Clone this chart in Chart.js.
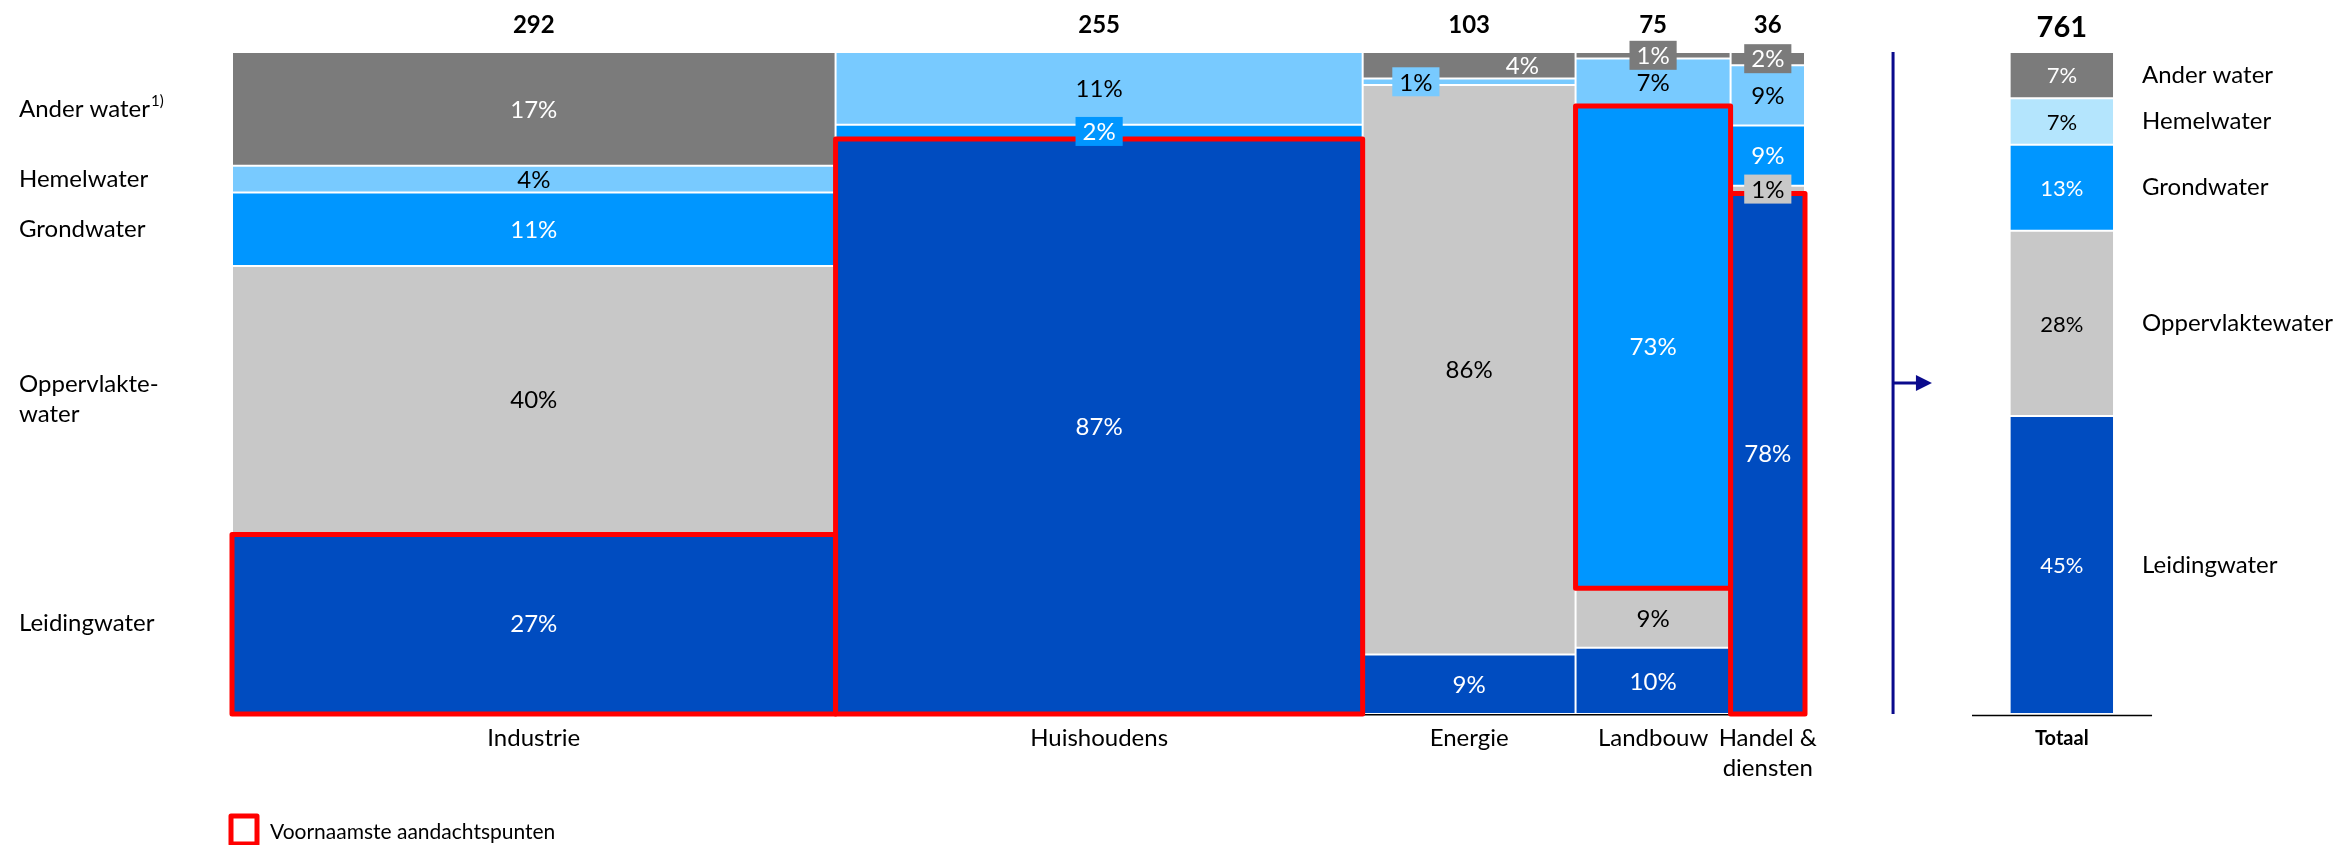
<!DOCTYPE html>
<html><head><meta charset="utf-8">
<script src="https://cdn.jsdelivr.net/npm/chart.js@4.4.1/dist/chart.umd.min.js"></script>
<style>html,body{margin:0;padding:0;background:#fff;overflow:hidden}</style>
</head><body>
<canvas id="c" width="2343" height="845" style="display:block;width:2343px;height:845px"></canvas>
<script>
// ---------------- DATA ----------------
const sectors = ['Industrie', 'Huishoudens', 'Energie', 'Landbouw', ['Handel &', 'diensten']];
const sectorTotals = [292, 255, 103, 75, 36];
const totalLabel = 'Totaal';
const totalVolume = 761;
const waterTypes = ['Leidingwater', 'Oppervlaktewater', 'Grondwater', 'Hemelwater', 'Ander water'];
// shares (%) per sector, same order as sectors
const leidingwater     = [27, 87,  9, 10, 78];
const oppervlaktewater = [40,  0, 86,  9,  1];
const grondwater       = [11,  2,  0, 73,  9];
const hemelwater       = [ 4, 11,  1,  7,  9];
const anderWater       = [17,  0,  4,  1,  2];
// total column shares, same order as waterTypes
const totaalShares     = [45, 28, 13,  7,  7];
// highlighted cells: [sector index, water type index]
const highlighted = [[0, 0], [1, 0], [3, 2], [4, 0]];
const leftLabels = [['Leidingwater'], ['Oppervlakte-', 'water'], ['Grondwater'], ['Hemelwater'], ['Ander water']];
const legendText = 'Voornaamste aandachtspunten';

// ---------------- STYLE / LAYOUT ----------------
const series = [leidingwater, oppervlaktewater, grondwater, hemelwater, anderWater];
const colors = ['#004cc0', '#c8c8c8', '#0096ff', '#78caff', '#7b7b7b'];
const hemelTotalColor = '#b4e5fd';
const textDark = [false, true, false, true, false];
const FONT = "Lato, 'Open Sans', sans-serif";
const W = 2343, H = 845;
const PLOT_L = 232, PLOT_T = 52, PLOT_B = 714, MAIN_R = 1805;
const pxPerUnit = (MAIN_R - PLOT_L) / totalVolume;
const X_MAX = (W - 3 - PLOT_L) / pxPerUnit;
const TOTAL_SPAN = [860, 910.5];     // x-units of the total column
const DIVIDER_X = 803.6;             // x-units of the divider line
const ARROW_END_X = 822.4;
const TOTAL_BASE = [841.8, 928.9];
const labelShift = {'2,4': 0.25, '2,3': -0.25}; // fraction of column width

let cum = 0;
const columnSpans = sectorTotals.map(v => { const s = [cum, cum + v]; cum += v; return s; });
columnSpans.push(TOTAL_SPAN);
const colSums = sectorTotals.map((_, i) => series.reduce((a, s) => a + s[i], 0));
function rawValue(i, t) { return i < sectorTotals.length ? series[t][i] : totaalShares[t]; }
function share(i, t) {
  const v = rawValue(i, t);
  if (!v) return null;
  return i < sectorTotals.length ? v / colSums[i] * 100 : v;
}

class MekkoController extends Chart.BarController {
  _calculateBarIndexPixels(index, ruler) {
    const s = this._cachedMeta.iScale;
    const sp = columnSpans[index];
    const a = s.getPixelForValue(sp[0]), b = s.getPixelForValue(sp[1]);
    return {base: a, head: b, center: (a + b) / 2, size: b - a};
  }
}
MekkoController.id = 'mekko';
MekkoController.defaults = Chart.BarController.defaults;
MekkoController.overrides = Chart.BarController.overrides;
Chart.register(MekkoController);

function txt(ctx, s, x, y, font, color, align) {
  ctx.font = font; ctx.fillStyle = color; ctx.textAlign = align || 'center'; ctx.textBaseline = 'middle';
  ctx.fillText(s, x, y);
}

const deco = {
  id: 'deco',
  afterDatasetsDraw(chart) {
    const ctx = chart.ctx, xs = chart.scales.x, ys = chart.scales.y, ca = chart.chartArea;
    const el = (t, i) => chart.getDatasetMeta(t).data[i];
    const nS = sectorTotals.length;
    ctx.save();
    // baselines
    ctx.strokeStyle = '#000'; ctx.lineWidth = 1.5;
    ctx.beginPath();
    ctx.moveTo(xs.getPixelForValue(0), ys.getPixelForValue(0) + 0.75);
    ctx.lineTo(xs.getPixelForValue(totalVolume), ys.getPixelForValue(0) + 0.75);
    ctx.moveTo(xs.getPixelForValue(TOTAL_BASE[0]), ys.getPixelForValue(0) + 1.5);
    ctx.lineTo(xs.getPixelForValue(TOTAL_BASE[1]), ys.getPixelForValue(0) + 1.5);
    ctx.stroke();
    // highlight boxes
    ctx.strokeStyle = '#ff0000'; ctx.lineWidth = 5; ctx.lineJoin = 'round';
    highlighted.forEach(([i, t]) => {
      const e = el(t, i);
      ctx.strokeRect(e.x - e.width / 2, e.y + 1, e.width, e.base - e.y - 1);
    });
    // segment labels
    for (let t = 0; t < waterTypes.length; t++) {
      for (let i = 0; i <= nS; i++) {
        const v = rawValue(i, t);
        if (!v) continue;
        const e = el(t, i);
        const h = e.base - e.y;
        const cx = e.x + (labelShift[i + ',' + t] || 0) * e.width;
        const cy = (e.y + e.base) / 2;
        const s = v + '%';
        const fsz = i === nS ? 22 : 24;
        ctx.font = fsz + 'px ' + FONT;
        if (h < 20) {
          const w = ctx.measureText(s).width + 14;
          ctx.fillStyle = (i === nS && t === 3) ? hemelTotalColor : colors[t];
          ctx.fillRect(cx - w / 2, cy - 14.5, w, 29);
        }
        txt(ctx, s, cx, cy + 1, fsz + 'px ' + FONT, textDark[t] ? '#000' : '#fff');
      }
    }
    // column totals
    for (let i = 0; i < nS; i++) {
      const e = el(0, i);
      txt(ctx, String(sectorTotals[i]), e.x, ca.top - 27, 'bold 24px ' + FONT, '#000');
      const lab = Array.isArray(sectors[i]) ? sectors[i] : [sectors[i]];
      lab.forEach((l, k) => txt(ctx, l, e.x, ca.bottom + 24 + k * 30, '24px ' + FONT, '#000'));
    }
    const te = el(0, nS);
    txt(ctx, String(totalVolume), te.x, ca.top - 24, 'bold 29px ' + FONT, '#000');
    txt(ctx, totalLabel, te.x, ca.bottom + 25, 'bold 20px ' + FONT, '#000');
    // left labels at Industrie segment centres
    for (let t = 0; t < waterTypes.length; t++) {
      const e = el(t, 0);
      const cy = (e.y + e.base) / 2;
      const lines = leftLabels[t];
      lines.forEach((l, k) => {
        const y = cy + (k - (lines.length - 1) / 2) * 30;
        txt(ctx, l, 19, y, '24px ' + FONT, '#000', 'left');
        if (t === 4) {
          ctx.font = '24px ' + FONT;
          const w = ctx.measureText(l).width;
          txt(ctx, '1)', 19 + w + 1, y - 8, '15px ' + FONT, '#000', 'left');
        }
      });
    }
    // right labels at total segment centres
    const rx = te.x + te.width / 2 + 28;
    for (let t = 0; t < waterTypes.length; t++) {
      const e = el(t, nS);
      txt(ctx, waterTypes[t], rx, (e.y + e.base) / 2, '24px ' + FONT, '#000', 'left');
    }
    // divider + arrow
    const dx = xs.getPixelForValue(DIVIDER_X);
    const ay = ys.getPixelForValue(50);
    const ax = xs.getPixelForValue(ARROW_END_X);
    ctx.strokeStyle = '#0a0a8c'; ctx.fillStyle = '#0a0a8c'; ctx.lineWidth = 3;
    ctx.beginPath(); ctx.moveTo(dx, ca.top); ctx.lineTo(dx, ca.bottom); ctx.stroke();
    ctx.beginPath(); ctx.moveTo(dx, ay); ctx.lineTo(ax - 12, ay); ctx.stroke();
    ctx.beginPath(); ctx.moveTo(ax, ay); ctx.lineTo(ax - 16, ay - 8); ctx.lineTo(ax - 16, ay + 8); ctx.closePath(); ctx.fill();
    // legend
    ctx.strokeStyle = '#ff0000'; ctx.lineWidth = 5; ctx.lineJoin = 'round';
    ctx.strokeRect(ca.left - 1, 816, 26, 28);
    txt(ctx, legendText, ca.left + 38, 832, '21px ' + FONT, '#000', 'left');
    ctx.restore();
  }
};

new Chart(document.getElementById('c'), {
  type: 'mekko',
  data: {
    datasets: waterTypes.map((name, t) => ({
      label: name,
      data: columnSpans.map((sp, i) => ({x: (sp[0] + sp[1]) / 2, y: share(i, t)})),
      backgroundColor: columnSpans.map((_, i) => (i === sectorTotals.length && t === 3) ? hemelTotalColor : colors[t]),
      borderColor: '#ffffff',
      borderWidth: 1,
      borderSkipped: false
    }))
  },
  options: {
    responsive: false,
    animation: false,
    devicePixelRatio: 1,
    events: [],
    layout: {padding: {left: PLOT_L, top: PLOT_T, right: W - PLOT_L - X_MAX * pxPerUnit, bottom: H - PLOT_B}},
    plugins: {legend: {display: false}, tooltip: {enabled: false}},
    scales: {
      x: {type: 'linear', min: 0, max: X_MAX, display: false, stacked: true, offset: false, grid: {offset: false}},
      y: {type: 'linear', min: 0, max: 100, display: false, stacked: true}
    }
  },
  plugins: [deco]
});
</script>
</body></html>
